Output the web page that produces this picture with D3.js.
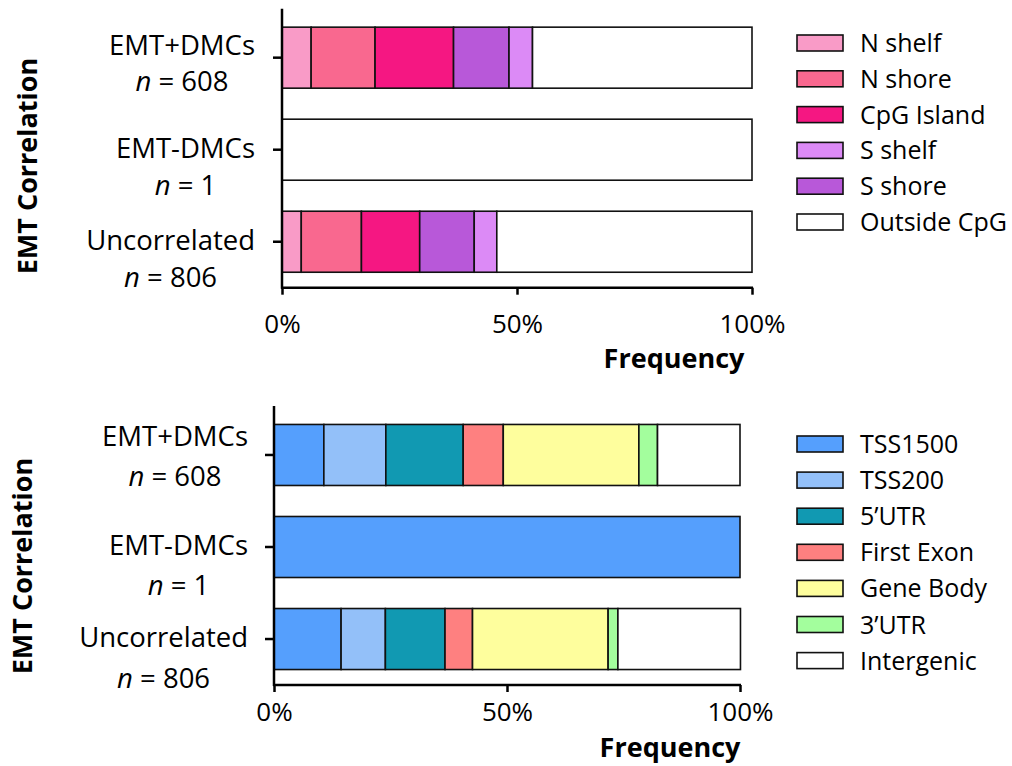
<!DOCTYPE html>
<html>
<head>
<meta charset="utf-8">
<script src="https://cdn.jsdelivr.net/npm/d3@7"></script>
<style>
  html, body { margin: 0; padding: 0; background: #fff; }
  svg { display: block; font-family: "Open Sans", "Noto Sans", sans-serif; }
</style>
</head>
<body>
<svg id="chart" width="1012" height="766"></svg>
<script>
// ---------------- DATA ----------------
const groups = ["EMT+DMCs", "EMT-DMCs", "Uncorrelated"];
const groupN = ["608", "1", "806"];

// Chart A: CpG island context (stack order as drawn in bars)
const cpgKeys = ["N shelf", "N shore", "CpG Island", "S shore", "S shelf", "Outside CpG"];
const cpgLegendOrder = ["N shelf", "N shore", "CpG Island", "S shelf", "S shore", "Outside CpG"];
const cpgColors = ["#F99BC7", "#F9688F", "#F51782", "#B858D9", "#DC8AF6", "#FFFFFF"];
const cpgEMTpos = [6.2, 13.6, 16.7, 11.8, 5.0, 46.7];
const cpgEMTneg = [0, 0, 0, 0, 0, 100];
const cpgUncorr = [4.1, 12.8, 12.4, 11.6, 4.8, 54.3];

// Chart B: gene region
const geneKeys = ["TSS1500", "TSS200", "5\u2019UTR", "First Exon", "Gene Body", "3\u2019UTR", "Intergenic"];
const geneColors = ["#559FFD", "#93C0F9", "#1199B2", "#FE8080", "#FEFE9D", "#A3FE9D", "#FFFFFF"];
const geneEMTpos = [10.7, 13.3, 16.6, 8.6, 29.1, 4.0, 17.7];
const geneEMTneg = [100, 0, 0, 0, 0, 0, 0];
const geneUncorr = [14.4, 9.5, 12.8, 5.9, 29.1, 2.1, 26.3];

const xTicks = [0, 0.5, 1];
const xTickLabels = ["0%", "50%", "100%"];

// ---------------- LAYOUT ----------------
const panels = [
  {
    keys: cpgKeys, legendKeys: cpgLegendOrder, colors: cpgColors,
    rows: [cpgEMTpos, cpgEMTneg, cpgUncorr],
    x0: 282, x1: 752, yTop: 11.7, yBot: 287.7,
    labelRight: 255, labelOff: [[-3, 33], [8, 45], [8, 45]],
    tickPad: 20, freqX: 674, freqY: 368,
    titleX: 27, titleY: 166,
    legendX: 797, legendY0: 43, legendStep: 35.8
  },
  {
    keys: geneKeys, legendKeys: geneKeys, colors: geneColors,
    rows: [geneEMTpos, geneEMTneg, geneUncorr],
    x0: 274, x1: 740, yTop: 409, yBot: 685,
    labelRight: 248, labelOff: [[-9, 31], [8, 48], [8, 49]],
    tickPad: 11, freqX: 670, freqY: 757,
    titleX: 22, titleY: 566,
    legendX: 797, legendY0: 444, legendStep: 36.1
  }
];

const svg = d3.select("#chart");

panels.forEach(p => {
  const g = svg.append("g");
  const x = d3.scaleLinear().domain([0, 1]).range([p.x0, p.x1]);
  const y = d3.scaleBand().domain(groups).range([p.yTop, p.yBot])
    .paddingInner(0.337).paddingOuter(0.168);
  const color = d3.scaleOrdinal().domain(p.keys).range(p.colors);

  const table = groups.map((gname, i) => {
    const o = { group: gname };
    p.keys.forEach((k, j) => o[k] = p.rows[i][j] / 100);
    return o;
  });
  const stacked = d3.stack().keys(p.keys)(table);

  // bars
  g.append("g").selectAll("g").data(stacked).join("g")
    .attr("fill", d => color(d.key))
    .selectAll("rect").data(d => d).join("rect")
    .filter(d => d[1] - d[0] > 0)
    .attr("x", d => x(d[0]))
    .attr("y", d => y(d.data.group))
    .attr("width", d => x(d[1]) - x(d[0]))
    .attr("height", y.bandwidth())
    .attr("stroke", "#111")
    .attr("stroke-width", 1.6);

  // x axis
  const xAxis = d3.axisBottom(x).tickValues(xTicks)
    .tickFormat((d, i) => xTickLabels[i])
    .tickSize(7).tickSizeOuter(0).tickPadding(p.tickPad);
  const xa = g.append("g").attr("transform", `translate(0,${p.yBot})`).call(xAxis);
  xa.select(".domain").attr("stroke", "#000").attr("stroke-width", 2.5)
    .attr("d", `M${p.x0 - 1},0H${p.x1 + 1}`);
  xa.selectAll(".tick line").attr("stroke", "#000").attr("stroke-width", 2.5);
  xa.selectAll(".tick text").attr("fill", "#000")
    .style("font-size", "26px").style("font-family", "'Open Sans', sans-serif");

  // y axis
  const yAxis = d3.axisLeft(y).tickSize(9).tickSizeOuter(0).tickFormat("");
  const ya = g.append("g").attr("transform", `translate(${p.x0},0)`).call(yAxis);
  ya.select(".domain").attr("stroke", "#000").attr("stroke-width", 2.5)
    .attr("d", `M0,${p.yTop - 3}V${p.yBot + 1}`);
  ya.selectAll(".tick line").attr("stroke", "#000").attr("stroke-width", 2.5);

  // row labels (two lines, centered on each other, right edge aligned)
  groups.forEach((gname, i) => {
    const cy = y(gname) + y.bandwidth() / 2;
    const t1 = g.append("text")
      .attr("x", p.labelRight).attr("y", cy + p.labelOff[i][0])
      .attr("text-anchor", "end")
      .style("font-size", "27.5px").attr("fill", "#000")
      .text(gname);
    const w1 = t1.node().getComputedTextLength();
    const t2 = g.append("text")
      .attr("y", cy + p.labelOff[i][1])
      .attr("text-anchor", "middle")
      .style("font-size", "27.5px").attr("fill", "#000");
    t2.append("tspan").style("font-style", "italic").text("n");
    t2.append("tspan").text(" = " + groupN[i]);
    const w2 = t2.node().getComputedTextLength();
    const cx = p.labelRight - Math.max(w1, w2) / 2;
    t1.attr("text-anchor", "middle").attr("x", cx);
    t2.attr("x", cx);
  });

  // axis titles
  g.append("text").attr("x", p.freqX).attr("y", p.freqY)
    .attr("text-anchor", "middle").style("font-size", "27px")
    .style("font-weight", "bold").text("Frequency");
  g.append("text")
    .attr("transform", `translate(${p.titleX},${p.titleY}) rotate(-90)`)
    .attr("text-anchor", "middle").attr("dy", "0.36em")
    .style("font-size", "27px").style("font-weight", "bold")
    .text("EMT Correlation");

  // legend
  const lg = g.append("g");
  p.legendKeys.forEach((k, i) => {
    const cy = p.legendY0 + i * p.legendStep;
    lg.append("rect").attr("x", p.legendX).attr("y", cy - 8)
      .attr("width", 46).attr("height", 16)
      .attr("fill", color(k)).attr("stroke", "#111").attr("stroke-width", 1.6);
    lg.append("text").attr("x", p.legendX + 63).attr("y", cy + 9)
      .style("font-size", "25px").attr("fill", "#000").text(k);
  });
});
</script>
</body>
</html>
